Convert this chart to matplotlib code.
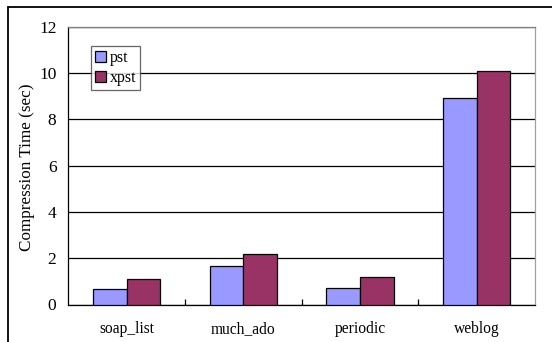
import numpy as np
import matplotlib.pyplot as plt
from matplotlib.patches import Rectangle

plt.rcParams['font.family'] = ['Liberation Serif', 'DejaVu Serif']

categories = ['soap_list', 'much_ado', 'periodic', 'weblog']
pst = [0.69, 1.67, 0.72, 8.92]
xpst = [1.08, 2.19, 1.17, 10.09]

fig = plt.figure(figsize=(5.52, 3.42), dpi=100)
W, H = 552, 342
ax = fig.add_axes([68.3 / W, 1 - 304.5 / H, (535 - 68.3) / W, (304.5 - 26.7) / H])

# outer frame (cropped at right and bottom)
fig.patches.append(Rectangle((7.5 / W, -0.1), 1.2, 1 - 7.5 / H + 0.1, transform=fig.transFigure,
                             fill=False, edgecolor='black', linewidth=1.3))

x = np.arange(len(categories))
w = 0.288
ax.bar(x - w / 2, pst, w, color='#9999ff', edgecolor='black', linewidth=0.9, label='pst', zorder=3)
ax.bar(x + w / 2, xpst, w, color='#993366', edgecolor='black', linewidth=0.9, label='xpst', zorder=3)

ax.set_xlim(-0.5, len(categories) - 0.5)
ax.set_ylim(0, 12)
ax.set_yticks(range(0, 13, 2))
ax.yaxis.grid(True, color='black', linewidth=0.9, zorder=0)
ax.tick_params(axis='y', length=0, labelsize=12.5, pad=8.5)

ax.set_xticks(x)
ax.set_xticklabels(categories, fontsize=11.2)
ax.tick_params(axis='x', length=0, pad=12)
ax.set_xticks(np.arange(0.5, len(categories) - 1, 1), minor=True)
ax.tick_params(axis='x', which='minor', direction='in', length=4, width=0.9)

ax.spines['left'].set_color('black')
ax.spines['bottom'].set_color('black')
ax.spines['top'].set_color('#808080')
ax.spines['right'].set_color('#a0a0a0')
for s in ax.spines.values():
    s.set_linewidth(0.9)

ax.set_ylabel('Compression Time (sec)', fontsize=12.3)
ax.yaxis.set_label_coords((35 - 68.3) / 466.7, (305 - 167.5) / 277.8)

leg = ax.legend(loc='upper left', bbox_to_anchor=(0.048, 0.93), fontsize=11.5, frameon=True,
                fancybox=False, edgecolor='#404040', handlelength=0.7, handleheight=0.7,
                handletextpad=0.25, borderpad=0.25, labelspacing=0.25, borderaxespad=0)
leg.get_frame().set_linewidth(0.9)

fig.savefig('out.png', dpi=100)
